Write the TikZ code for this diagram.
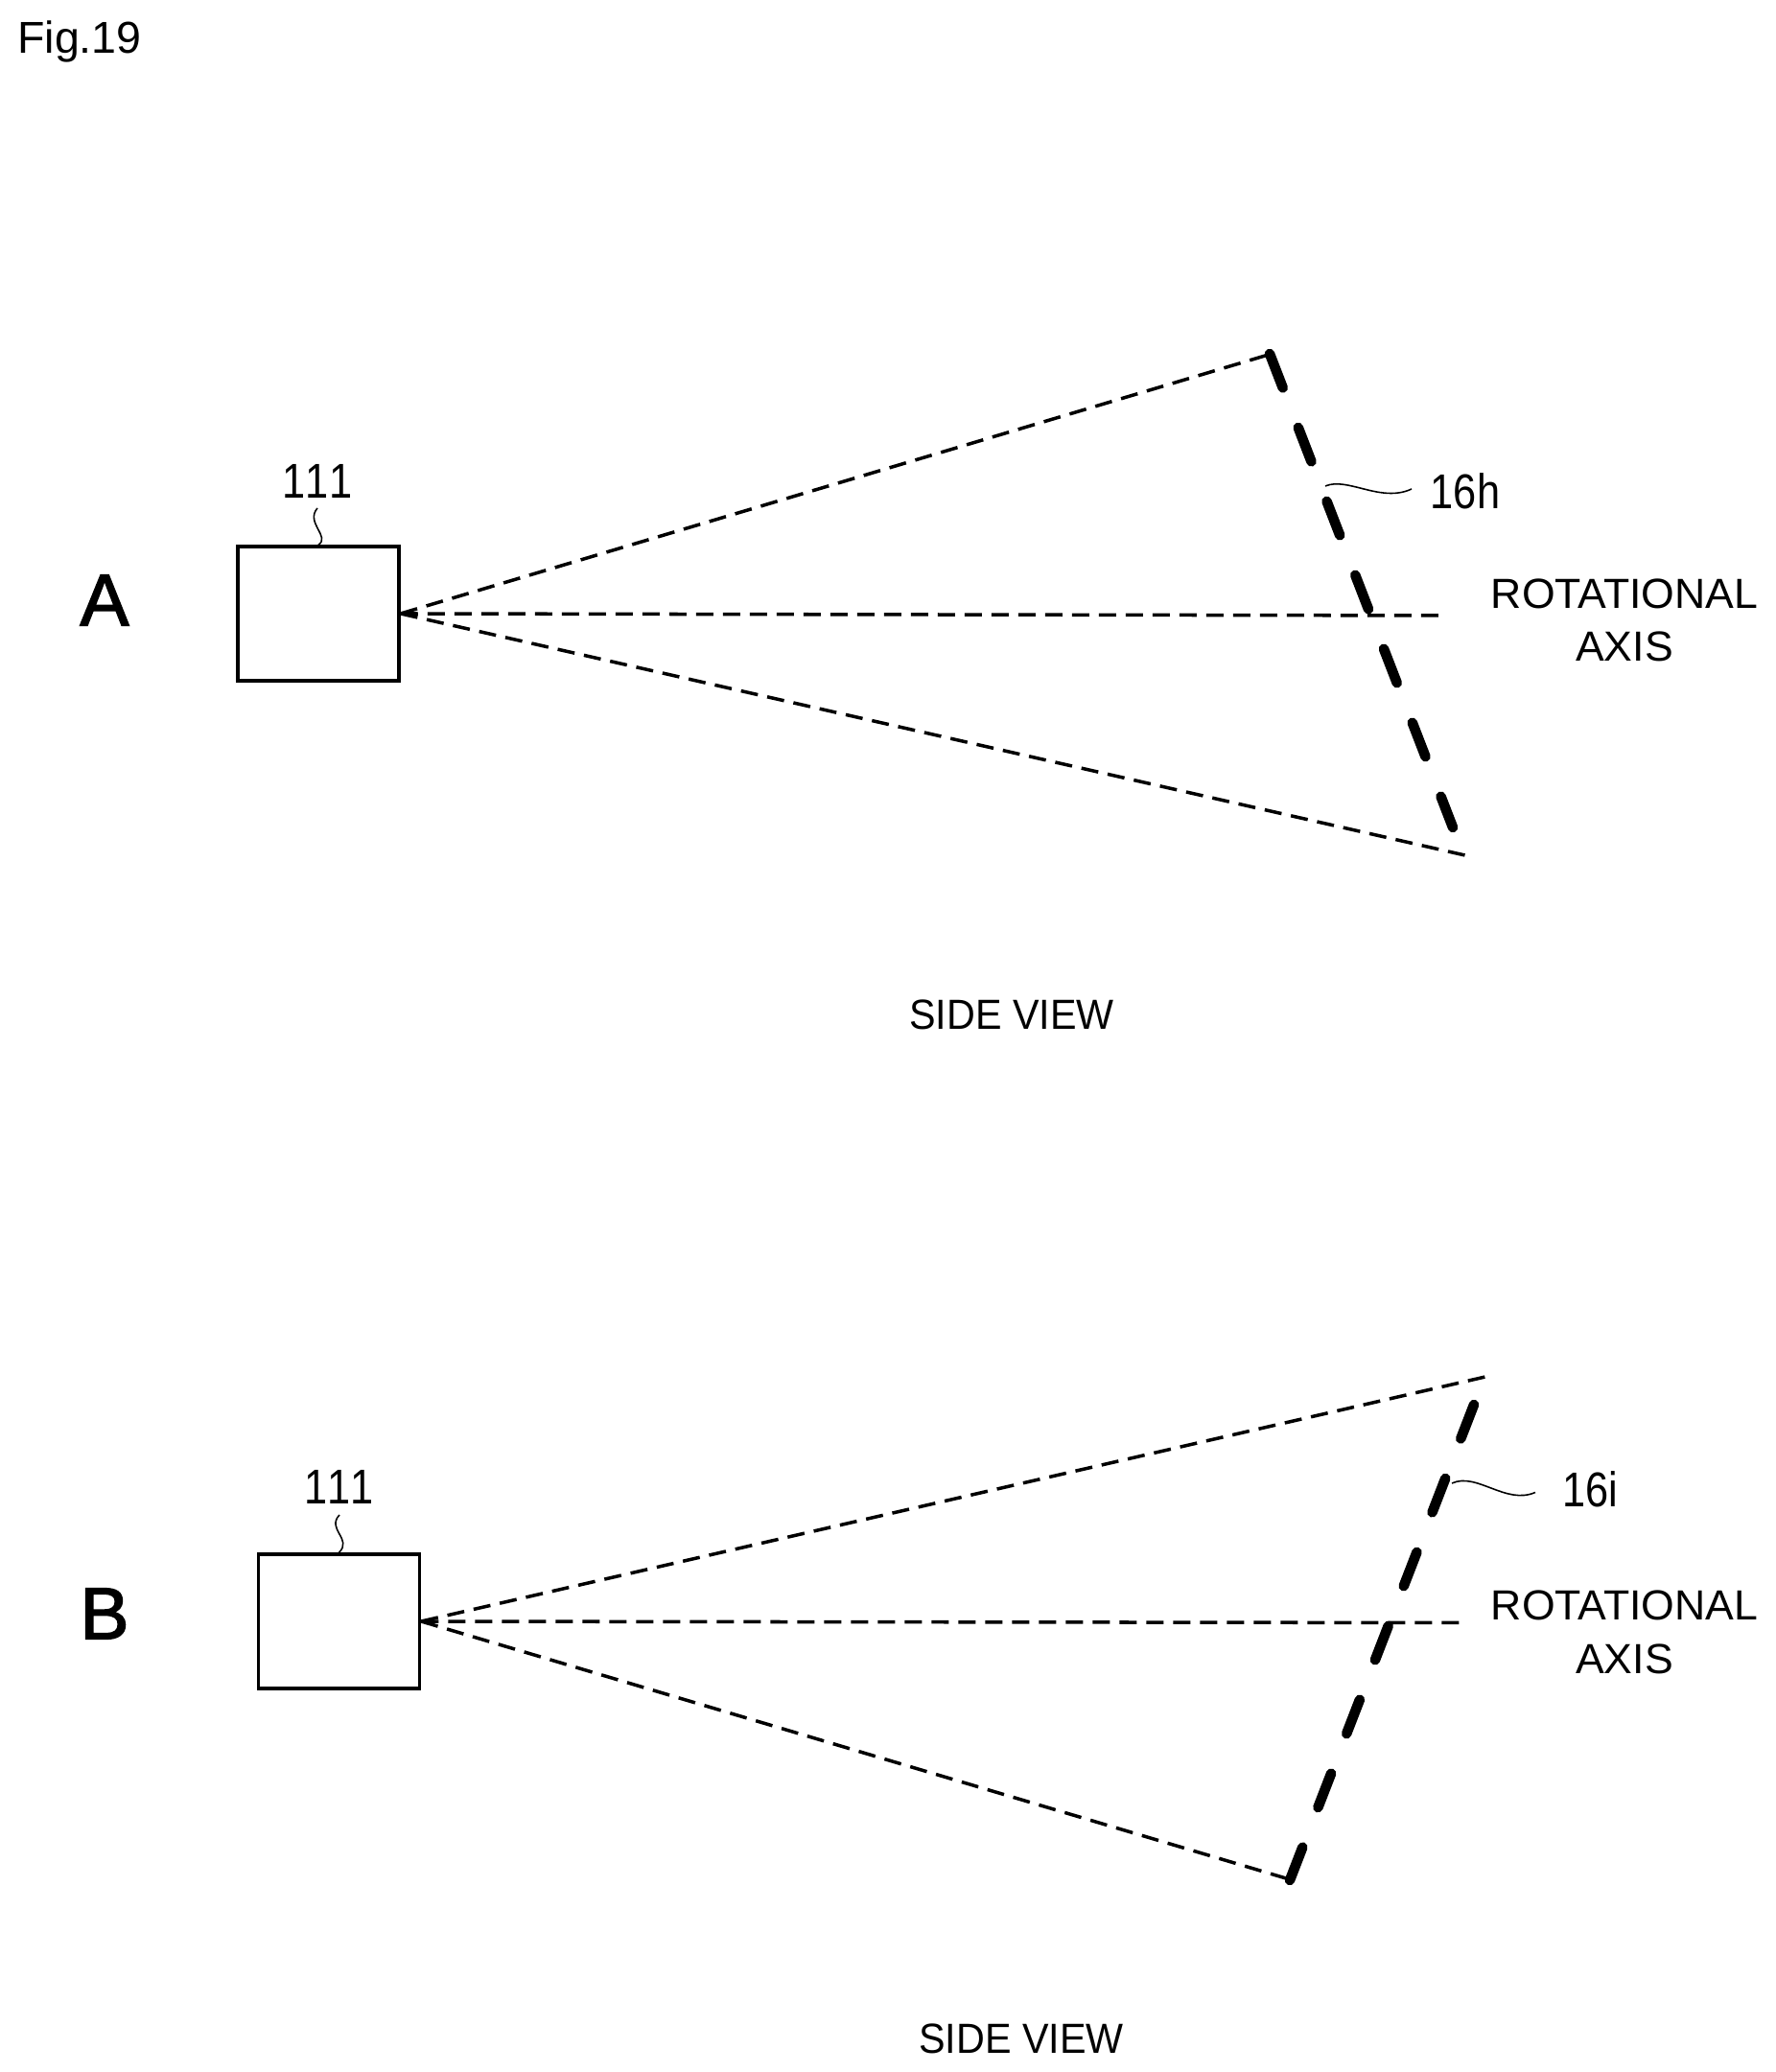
\documentclass[tikz,border=0pt]{standalone}
\usepackage{fontspec}
\setmainfont{Liberation Sans}
\tikzset{
	unit box/.style={draw, line width=2pt, minimum width=3.36cm, minimum height=2.8cm, inner sep=0pt},
	view line/.style={line width=2pt, dash pattern=on 0.36cm off 0.2cm},
	screen line/.style={line width=6pt, line cap=round, dash pattern=on 0.76cm off 0.89cm},
	lead line/.style={line width=0.9pt},
	big text/.style={font=\fontsize{43.6}{48}\selectfont\addfontfeature{FakeBold=2}, inner sep=0pt},
	ref text/.style={font=\fontsize{29}{32}\selectfont\addfontfeature{Kerning=Off}, xscale=0.85, inner sep=0pt},
	axis text/.style={font=\fontsize{25}{31.7}\selectfont, xscale=1.015, align=center, inner sep=0pt},
	view text/.style={font=\fontsize{25}{31.7}\selectfont, xscale=0.94, inner sep=0pt}
}
\begin{document}
\begin{tikzpicture}
	\useasboundingbox (0,0) rectangle (37.02,43.22);
	
	\node[font=\fontsize{26.5}{30}\selectfont, inner sep=0pt] at (1.66,42.36) (fig-text) {Fig.19};
	
	\node[big text] at (2.18,30.7) (part-a) {A};
	\node[unit box] at (6.64,30.42) (unit-a) {};
	\node[ref text] at (6.62,33.19) (unit-a-text) {111};
	\coordinate (unit-a-lead) at (6.62,32.62);
	\draw[lead line] (unit-a-lead) .. controls (6.36,32.32) and (6.9,32.02) .. (unit-a.north);
	
	\coordinate (top-a) at (26.52,35.84);
	\coordinate (axis-a) at (30.12,30.38);
	\coordinate (bottom-a) at (30.64,25.36);
	\draw[view line] (unit-a.east) to (top-a);
	\draw[view line] (unit-a.east) to (axis-a);
	\draw[view line] (unit-a.east) to (bottom-a);
	
	\coordinate (screen-a-top) at (26.48,35.84);
	\coordinate (screen-a-bottom) at (30.3,25.96);
	\draw[screen line] (screen-a-top) to (screen-a-bottom);
	
	\node[ref text] at (30.56,32.98) (screen-a-text) {16h};
	\coordinate (screen-a-lead) at (27.64,33.08);
	\coordinate (screen-a-text-lead) at (29.44,33.02);
	\draw[lead line] (screen-a-lead) .. controls (28.1,33.28) and (28.8,32.72) .. (screen-a-text-lead);
	
	\node[axis text] at (33.88,30.28) (axis-a-text) {ROTATIONAL\\AXIS};
	\node[view text] at (21.1,22.06) (view-a-text) {SIDE VIEW};
	
	\node[big text] at (2.18,9.56) (part-b) {B};
	\node[unit box] at (7.07,9.4) (unit-b) {};
	\node[ref text] at (7.07,12.2) (unit-b-text) {111};
	\coordinate (unit-b-lead) at (7.08,11.62);
	\draw[lead line] (unit-b-lead) .. controls (6.8,11.32) and (7.36,11.12) .. (unit-b.north);
	
	\coordinate (top-b) at (31.15,14.54);
	\coordinate (axis-b) at (30.6,9.37);
	\coordinate (bottom-b) at (26.82,4.04);
	\draw[view line] (unit-b.east) to (top-b);
	\draw[view line] (unit-b.east) to (axis-b);
	\draw[view line] (unit-b.east) to (bottom-b);
	
	\coordinate (screen-b-top) at (30.74,13.92);
	\coordinate (screen-b-bottom) at (26.9,4);
	\draw[screen line] (screen-b-top) to (screen-b-bottom);
	
	\node[ref text] at (33.16,12.16) (screen-b-text) {16i};
	\coordinate (screen-b-lead) at (30.28,12.28);
	\coordinate (screen-b-text-lead) at (32.02,12.09);
	\draw[lead line] (screen-b-lead) .. controls (30.8,12.52) and (31.4,11.82) .. (screen-b-text-lead);
	
	\node[axis text] at (33.88,9.17) (axis-b-text) {ROTATIONAL\\AXIS};
	\node[view text] at (21.3,0.7) (view-b-text) {SIDE VIEW};
\end{tikzpicture}
\end{document}
